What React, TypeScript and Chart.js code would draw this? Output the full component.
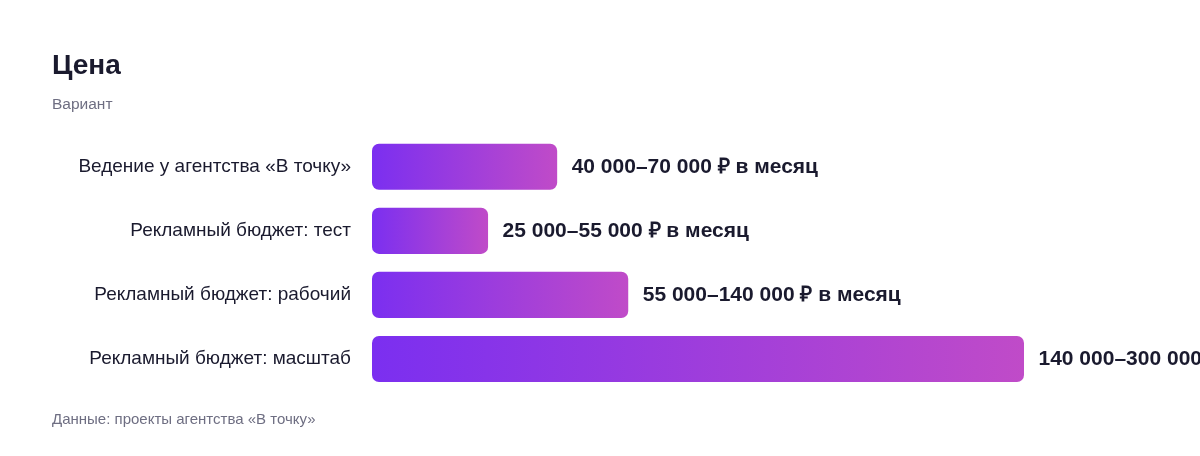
import React, { useEffect, useRef } from "react";
import { Chart, registerables } from "chart.js";

Chart.register(...registerables);

const TITLE = "Цена";
const SUBTITLE = "Вариант";
const FOOTER = "Данные: проекты агентства «В точку»";

const categories = [
  "Ведение у агентства «В точку»",
  "Рекламный бюджет: тест",
  "Рекламный бюджет: рабочий",
  "Рекламный бюджет: масштаб",
];

// relative bar lengths (largest = 100)
const values = [28.4, 17.8, 39.3, 100];

const valueLabels = [
  "40 000–70 000 ₽ в месяц",
  "25 000–55 000 ₽ в месяц",
  "55 000–140 000 ₽ в месяц",
  "140 000–300 000 ₽ в месяц",
];

const FONT = "'Liberation Sans', Arial, Helvetica, sans-serif";
const GRAD_START = "#7b2ff0";
const GRAD_END = "#c04bc8";
const DARK = "#1a1a2e";
const MUTED = "#6e6e82";

const extrasPlugin = {
  id: "extras",
  afterDatasetsDraw(chart: any) {
    const { ctx, chartArea } = chart;
    const meta = chart.getDatasetMeta(0);
    ctx.save();
    ctx.fillStyle = DARK;
    ctx.font = `bold 21px ${FONT}`;
    ctx.textBaseline = "middle";
    ctx.textAlign = "left";
    meta.data.forEach((bar: any, i: number) => {
      ctx.fillText(valueLabels[i], bar.x + 14.5, bar.y + 0.5);
    });
    ctx.fillStyle = MUTED;
    ctx.font = `15px ${FONT}`;
    ctx.fillText(FOOTER, 52, chartArea.bottom + 29);
    ctx.restore();
  },
};

export default function App() {
  const ref = useRef<HTMLCanvasElement | null>(null);

  useEffect(() => {
    document.body.style.margin = "0";
    const canvas = ref.current;
    if (!canvas) return;
    const chart = new Chart(canvas, {
      type: "bar",
      data: {
        labels: categories,
        datasets: [
          {
            data: values,
            backgroundColor: (c: any) => {
              const ch = c.chart;
              const xs = ch.scales?.x;
              if (!ch.chartArea || !xs || c.parsed == null) return GRAD_START;
              const x0 = xs.getPixelForValue(0);
              const x1 = xs.getPixelForValue(c.parsed.x);
              if (!isFinite(x0) || !isFinite(x1) || x1 <= x0) return GRAD_START;
              const g = ch.ctx.createLinearGradient(x0, 0, x1, 0);
              g.addColorStop(0, GRAD_START);
              g.addColorStop(1, GRAD_END);
              return g;
            },
            borderRadius: 7,
            borderSkipped: false,
            categoryPercentage: 1,
            barPercentage: 0.72,
          },
        ],
      },
      options: {
        indexAxis: "y",
        animation: false,
        responsive: true,
        maintainAspectRatio: false,
        layout: { padding: { left: 52, right: 176, top: 49, bottom: 65 } },
        plugins: {
          legend: { display: false },
          tooltip: { enabled: false },
          title: {
            display: true,
            text: TITLE,
            align: "start",
            color: DARK,
            font: { family: FONT, size: 28, weight: "bold", lineHeight: 1.2 },
            padding: { top: 0, bottom: 0 },
          },
          subtitle: {
            display: true,
            text: SUBTITLE,
            align: "start",
            color: MUTED,
            font: { family: FONT, size: 15.5, lineHeight: 1.2 },
            padding: { top: 13, bottom: 20.5 },
          },
        },
        scales: {
          x: {
            display: false,
            min: 0,
            max: 100,
            grid: { display: false },
          },
          y: {
            grid: { display: false, drawTicks: false },
            border: { display: false },
            ticks: {
              padding: 21,
              color: DARK,
              font: { family: FONT, size: 19 },
            },
            afterFit: (scale: any) => {
              scale.width = 320;
            },
          },
        },
      },
      plugins: [extrasPlugin],
    } as any);
    return () => chart.destroy();
  }, []);

  return (
    <div style={{ width: 1200, height: 456, position: "relative", background: "#ffffff" }}>
      <canvas ref={ref} />
    </div>
  );
}
